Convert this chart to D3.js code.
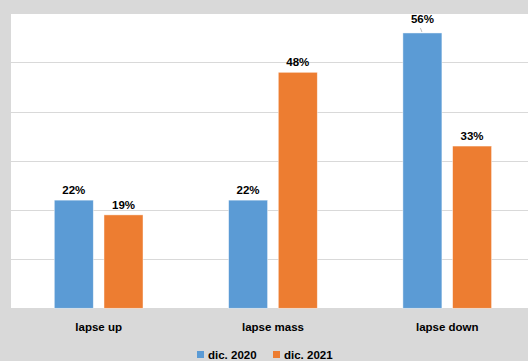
<!DOCTYPE html>
<html><head><meta charset="utf-8">
<script src="https://cdn.jsdelivr.net/npm/d3@7"></script>
<style>html,body{margin:0;padding:0;background:#d9d9d9;}svg{display:block;}</style>
</head><body>
<script>
const categories = ["lapse up", "lapse mass", "lapse down"];
const seriesNames = ["dic. 2020", "dic. 2021"];
const values2020 = [0.22, 0.22, 0.56];
const values2021 = [0.19, 0.48, 0.33];
const yTicks = [0, 0.1, 0.2, 0.3, 0.4, 0.5, 0.6];
const colors = ["#5B9BD5", "#ED7D31"];

const W = 528, H = 361;
const plot = {left: 11, top: 13.3, right: 534.4, bottom: 308.3};
const svg = d3.select("body").append("svg").attr("width", W).attr("height", H);
svg.append("rect").attr("width", W).attr("height", H).attr("fill", "#d9d9d9");
svg.append("rect").attr("x", plot.left).attr("y", plot.top)
  .attr("width", W - plot.left).attr("height", plot.bottom - plot.top).attr("fill", "#fff");

const x0 = d3.scaleBand().domain(categories).range([plot.left + 0.5, plot.right]).padding(0);
const x1 = d3.scaleBand().domain(seriesNames).range([0, x0.bandwidth()]).paddingInner(0.215).paddingOuter(0.861);
const y = d3.scaleLinear().domain([0, 0.6]).range([plot.bottom, plot.top]);

svg.append("g").selectAll("line").data(yTicks).join("line")
  .attr("x1", plot.left).attr("x2", W)
  .attr("y1", d => Math.round(y(d)) + 0.5).attr("y2", d => Math.round(y(d)) + 0.5)
  .attr("stroke", "#d9d9d9").attr("stroke-width", 1);

const data = [];
categories.forEach((c, i) => {
  data.push({c, s: seriesNames[0], v: values2020[i], col: colors[0]});
  data.push({c, s: seriesNames[1], v: values2021[i], col: colors[1]});
});

svg.append("g").selectAll("rect").data(data).join("rect")
  .attr("x", d => x0(d.c) + x1(d.s))
  .attr("y", d => y(d.v))
  .attr("width", x1.bandwidth())
  .attr("height", d => y(0) - y(d.v))
  .attr("fill", d => d.col)
  .attr("stroke", "rgba(255,255,255,0.6)").attr("stroke-width", 0.75);

const font = "'Liberation Sans', Arial, sans-serif";
svg.append("g").selectAll("text").data(data).join("text")
  .attr("x", d => x0(d.c) + x1(d.s) + x1.bandwidth() / 2)
  .attr("y", d => y(d.v) - (d.v > 0.55 ? 10 : 6))
  .attr("text-anchor", "middle")
  .attr("font-family", font).attr("font-weight", "bold").attr("font-size", 11.5)
  .attr("fill", "#000")
  .text(d => Math.round(d.v * 100) + "%");

// leader line for top label
data.filter(d => d.v > 0.55).forEach(d => {
  const cx = x0(d.c) + x1(d.s) + x1.bandwidth() / 2;
  svg.append("line").attr("x1", cx - 2).attr("y1", y(d.v) - 5).attr("x2", cx - 0.5).attr("y2", y(d.v) - 1)
    .attr("stroke", "#a6a6a6").attr("stroke-width", 0.75);
});

const xAxis = svg.append("g").attr("transform", `translate(0,${plot.bottom})`)
  .call(d3.axisBottom(x0).tickSize(0).tickPadding(0));
xAxis.select(".domain").remove();
xAxis.selectAll("text").attr("y", 23).attr("dy", 0)
  .attr("font-family", font).attr("font-weight", "bold").attr("font-size", 11.5).attr("fill", "#000");

const legend = svg.append("g");
const legX = [197, 273];
seriesNames.forEach((s, i) => {
  legend.append("rect").attr("x", legX[i]).attr("y", 351).attr("width", 7).attr("height", 7).attr("fill", colors[i]);
  legend.append("text").attr("x", legX[i] + 11).attr("y", 358.5)
    .attr("font-family", font).attr("font-weight", "bold").attr("font-size", 11.5).attr("fill", "#000").text(s);
});
</script>
</body></html>
